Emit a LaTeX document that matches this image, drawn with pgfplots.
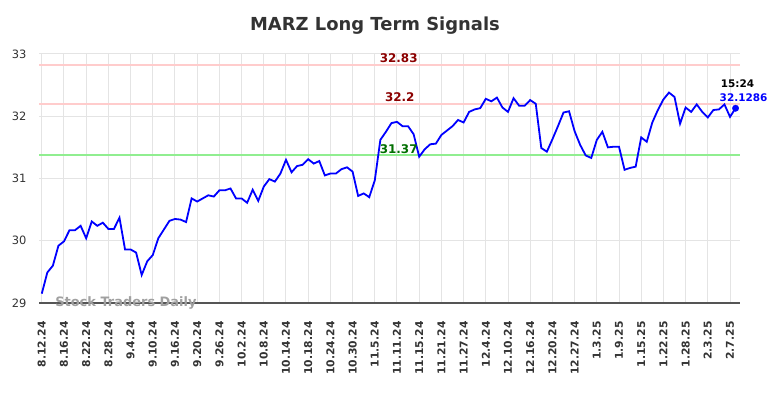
\documentclass[border=0pt]{standalone}
\usepackage{fontspec}
\setmainfont{DejaVu Sans}
\usepackage{pgfplots}
\pgfplotsset{compat=1.18}
\usepackage{pgfplotstable}

\definecolor{linecol}{RGB}{0,0,255}
\definecolor{pinkline}{RGB}{255,204,204}
\definecolor{greenline}{RGB}{144,238,144}
\definecolor{darkred}{RGB}{139,0,0}
\definecolor{darkgreen}{RGB}{0,110,0}
\definecolor{gridgray}{RGB}{228,228,228}
\definecolor{titlegray}{RGB}{51,51,51}
\definecolor{wmgray}{RGB}{160,160,160}
\definecolor{axisgray}{RGB}{85,85,85}

\pgfplotstableread{
idx val
0 29.15
1 29.49
2 29.60
3 29.92
4 29.99
5 30.17
6 30.17
7 30.24
8 30.04
9 30.31
10 30.24
11 30.29
12 30.19
13 30.19
14 30.37
15 29.86
16 29.86
17 29.81
18 29.45
19 29.67
20 29.77
21 30.04
22 30.18
23 30.32
24 30.35
25 30.34
26 30.30
27 30.68
28 30.63
29 30.68
30 30.73
31 30.71
32 30.81
33 30.81
34 30.84
35 30.68
36 30.68
37 30.61
38 30.82
39 30.64
40 30.87
41 30.99
42 30.95
43 31.08
44 31.30
45 31.10
46 31.20
47 31.22
48 31.31
49 31.24
50 31.28
51 31.05
52 31.08
53 31.08
54 31.15
55 31.18
56 31.11
57 30.72
58 30.76
59 30.70
60 30.97
61 31.62
62 31.75
63 31.89
64 31.91
65 31.84
66 31.84
67 31.71
68 31.35
69 31.47
70 31.55
71 31.56
72 31.70
73 31.77
74 31.84
75 31.94
76 31.90
77 32.07
78 32.11
79 32.13
80 32.28
81 32.24
82 32.30
83 32.14
84 32.07
85 32.29
86 32.17
87 32.17
88 32.26
89 32.20
90 31.49
91 31.43
92 31.63
93 31.84
94 32.06
95 32.08
96 31.76
97 31.54
98 31.37
99 31.33
100 31.62
101 31.75
102 31.50
103 31.51
104 31.51
105 31.14
106 31.17
107 31.19
108 31.66
109 31.59
110 31.90
111 32.10
112 32.27
113 32.38
114 32.31
115 31.88
116 32.14
117 32.07
118 32.19
119 32.07
120 31.98
121 32.10
122 32.11
123 32.19
124 31.99
125 32.1286
}\pricedata

\begin{document}
\begin{tikzpicture}
\path[use as bounding box] (0bp,0bp) rectangle (784bp,398bp);
\begin{axis}[
  at={(39bp,95bp)}, anchor=south west,
  scale only axis, width=701bp, height=249bp,
  xmin=-0.5, xmax=125.8, ymin=29, ymax=33,
  axis line style={draw=none},
  tick style={draw=none},
  xmajorgrids, ymajorgrids,
  grid style={gridgray, line width=1bp},
  xtick={0,4,...,124},
  xticklabels={8.12.24,8.16.24,8.22.24,8.28.24,9.4.24,9.10.24,9.16.24,9.20.24,9.26.24,10.2.24,10.8.24,10.14.24,10.18.24,10.24.24,10.30.24,11.5.24,11.11.24,11.15.24,11.21.24,11.27.24,12.4.24,12.10.24,12.16.24,12.20.24,12.27.24,1.3.25,1.9.25,1.15.25,1.22.25,1.28.25,2.3.25,2.7.25},
  xticklabel style={rotate=90, anchor=east, text=titlegray, font=\bfseries\fontsize{10.8}{12}\selectfont},
  xticklabel shift=15bp,
  ytick={29,30,31,32,33},
  yticklabel style={text=titlegray, font=\fontsize{11.5}{13}\selectfont},
  yticklabel shift=9bp,
  /pgf/number format/assume math mode=true,
  clip=false,
]
\addplot[pinkline, line width=2bp, forget plot] coordinates {(-0.5,32.83) (125.8,32.83)};
\addplot[pinkline, line width=2bp, forget plot] coordinates {(-0.5,32.2) (125.8,32.2)};
\addplot[greenline, line width=2bp, forget plot] coordinates {(-0.5,31.37) (125.8,31.37)};
\draw[axisgray, line width=1.2bp] (rel axis cs:0,0) -- (rel axis cs:1,0);
\node[text=wmgray, font=\bfseries\fontsize{13}{15}\selectfont] at (rel axis cs:0.124,0.0) {Stock Traders Daily};
\addplot[linecol, line width=1.8bp, no markers] table[x=idx, y=val] {\pricedata};
\addplot[linecol, only marks, mark=*, mark size=3.2bp] coordinates {(125,32.1286)};
\node[anchor=south, text=darkred, font=\bfseries\fontsize{12}{14}\selectfont, inner sep=2bp] at (axis cs:64.3,32.83) {32.83};
\node[anchor=south, text=darkred, font=\bfseries\fontsize{12}{14}\selectfont, inner sep=2bp] at (axis cs:64.5,32.2) {32.2};
\node[anchor=south, text=darkgreen, font=\bfseries\fontsize{12}{14}\selectfont, inner sep=2bp] at (axis cs:64.3,31.37) {31.37};
\node[text=black, font=\bfseries\fontsize{10.5}{12}\selectfont] at ([shift={(2bp,25bp)}]axis cs:125,32.1286) {15:24};
\node[text=linecol, font=\bfseries\fontsize{10.5}{12}\selectfont] at ([shift={(8bp,11bp)}]axis cs:125,32.1286) {32.1286};
\end{axis}
\node[text=titlegray, font=\bfseries\fontsize{18}{21}\selectfont] at (375bp,372bp) {MARZ Long Term Signals};
\end{tikzpicture}
\end{document}
